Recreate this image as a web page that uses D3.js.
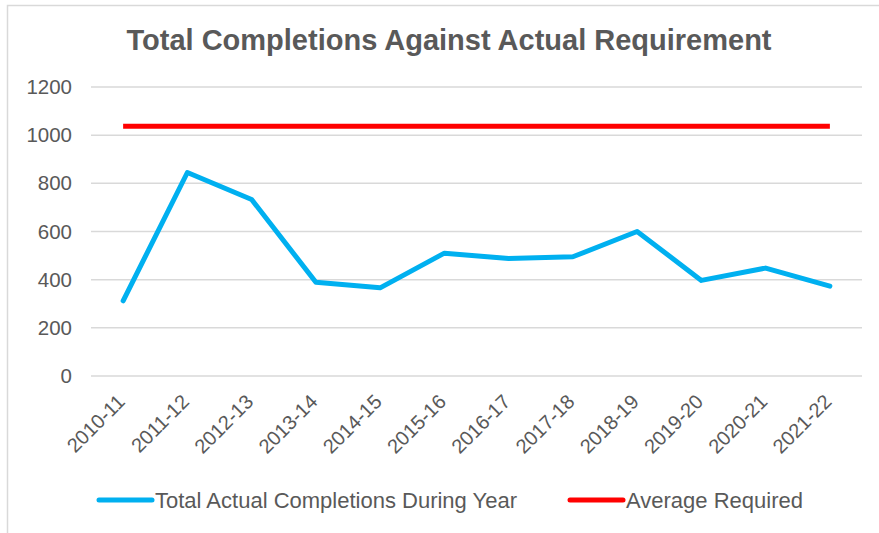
<!DOCTYPE html>
<html>
<head>
<meta charset="utf-8">
<script src="https://cdn.jsdelivr.net/npm/d3@7"></script>
<style>
  body { margin: 0; background: #fff; }
  svg { display: block; font-family: Arial, "Liberation Sans", sans-serif; }
</style>
</head>
<body>
<svg id="chart" width="879" height="533"></svg>
<script>
// chart data
var years = ["2010-11","2011-12","2012-13","2013-14","2014-15","2015-16",
             "2016-17","2017-18","2018-19","2019-20","2020-21","2021-22"];
var completions = [312, 845, 733, 389, 366, 510, 488, 495, 600, 397, 448, 373];
var averageRequired = [1037,1037,1037,1037,1037,1037,1037,1037,1037,1037,1037,1037];
var yTicks = [0, 200, 400, 600, 800, 1000, 1200];
var seriesNames = ["Total Actual Completions During Year", "Average Required"];
var seriesColors = ["#00b0f0", "#ff0000"];

var svg = d3.select("#chart");
var textColor = "#595959";

// outer chart border (runs off the right/bottom of the shot)
svg.append("rect")
    .attr("x", 7.5).attr("y", 5.5)
    .attr("width", 1000).attr("height", 1000)
    .attr("fill", "none")
    .attr("stroke", "#d9d9d9")
    .attr("stroke-width", 1.5);

// title
svg.append("text")
    .attr("x", 449).attr("y", 50)
    .attr("text-anchor", "middle")
    .attr("font-size", 29)
    .attr("font-weight", "bold")
    .attr("fill", textColor)
    .text("Total Completions Against Actual Requirement");

// scales
var x = d3.scaleBand()
    .domain(years)
    .range([91, 862]);

var y = d3.scaleLinear()
    .domain([0, 1200])
    .range([376, 87]);

// gridlines
svg.append("g")
    .selectAll("line")
    .data(yTicks)
    .enter()
    .append("line")
    .attr("x1", 91).attr("x2", 862)
    .attr("y1", function(d) { return y(d); })
    .attr("y2", function(d) { return y(d); })
    .attr("stroke", "#d9d9d9")
    .attr("stroke-width", 1.5);

// y axis labels
var yAxis = d3.axisLeft(y).tickValues(yTicks).tickFormat(d3.format("d"))
    .tickSize(0).tickPadding(0);
svg.append("g")
    .attr("transform", "translate(72,0)")
    .call(yAxis)
    .call(function(g) { g.select(".domain").remove(); })
    .selectAll("text")
    .attr("font-size", 20.5)
    .attr("font-family", "Arial, 'Liberation Sans', sans-serif")
    .attr("fill", textColor);

// x axis labels, rotated
var xAxis = d3.axisBottom(x).tickSize(0).tickPadding(0);
svg.append("g")
    .attr("transform", "translate(0,376)")
    .call(xAxis)
    .call(function(g) { g.select(".domain").remove(); })
    .selectAll("text")
    .attr("font-size", 20)
    .attr("font-family", "Arial, 'Liberation Sans', sans-serif")
    .attr("fill", textColor)
    .attr("text-anchor", "end")
    .attr("dy", "0.35em")
    .attr("transform", "translate(-2,22) rotate(-45)");

// lines
var line = d3.line()
    .x(function(d, i) { return x(years[i]) + x.bandwidth() / 2; })
    .y(function(d) { return y(d); });

svg.append("path")
    .datum(averageRequired)
    .attr("d", line)
    .attr("fill", "none")
    .attr("stroke", seriesColors[1])
    .attr("stroke-width", 5);

svg.append("path")
    .datum(completions)
    .attr("d", line)
    .attr("fill", "none")
    .attr("stroke", seriesColors[0])
    .attr("stroke-width", 5)
    .attr("stroke-linejoin", "round")
    .attr("stroke-linecap", "round");

// legend
var legendX = [99, 570];
var legend = svg.append("g")
    .selectAll("g")
    .data(seriesNames)
    .enter()
    .append("g")
    .attr("transform", function(d, i) { return "translate(" + legendX[i] + ",500)"; });

legend.append("line")
    .attr("x1", 0).attr("x2", 53)
    .attr("stroke", function(d, i) { return seriesColors[i]; })
    .attr("stroke-width", 5)
    .attr("stroke-linecap", "round");

legend.append("text")
    .attr("x", 56)
    .attr("y", 8)
    .attr("font-size", 22)
    .attr("fill", textColor)
    .text(function(d) { return d; });
</script>
</body>
</html>
